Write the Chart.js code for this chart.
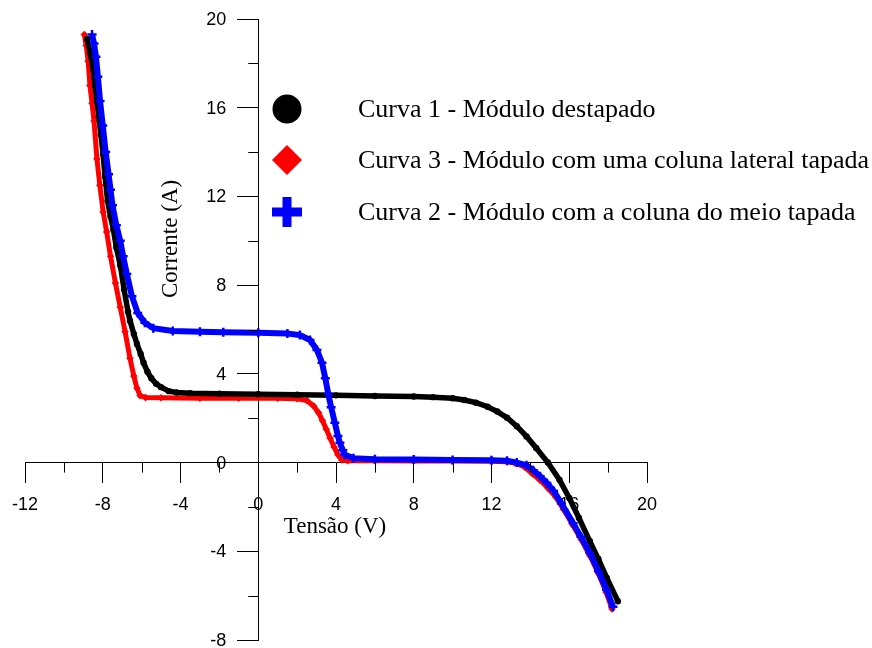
<!DOCTYPE html>
<html><head><meta charset="utf-8">
<script src="https://cdn.jsdelivr.net/npm/chart.js@4.4.1/dist/chart.umd.min.js"></script>
<style>html,body{margin:0;padding:0;background:#fff;}canvas{display:block;}</style>
</head><body>
<canvas id="c" width="872" height="648"></canvas>
<script>
// Tick labels / axis ranges
const xTickLabels = [-12, -8, -4, 0, 4, 8, 12, 16, 20];
const yTickLabels = [-8, -4, 0, 4, 8, 12, 16, 20];

// Series names (legend order)
const seriesNames = [
  'Curva 1 - Módulo destapado',
  'Curva 3 - Módulo com uma coluna lateral tapada',
  'Curva 2 - Módulo com a coluna do meio tapada'
];

// Curva 1 - Tensão (V) / Corrente (A)
const c1V = [-8.8,-8.65,-8.5,-8.4,-8.3,-8.2,-8.1,-7.98,-7.88,-7.75,-7.6,-7.45,-7.3,-7.1,-6.9,-6.7,-6.6,-6.4,-6.24,-6.05,-5.9,-5.7,-5.5,-5.25,-5.0,-4.6,-4.2,-3.5,-2,0,2,4,6,8,9,10,10.6,11.2,11.8,12.3,12.8,13.3,13.8,14.3,14.9,15.5,16.0,16.5,17.06,17.5,17.93,18.5];
const c1I = [19.1,18.5,17.8,17.0,16.3,15.6,14.8,13.9,12.9,11.8,11.1,10.5,9.7,8.9,7.8,6.8,6.4,5.8,5.35,4.9,4.5,4.1,3.8,3.55,3.4,3.22,3.16,3.13,3.1,3.08,3.06,3.03,3.0,2.98,2.95,2.9,2.82,2.7,2.52,2.3,2.02,1.64,1.18,0.66,0.0,-0.78,-1.6,-2.5,-3.55,-4.35,-5.2,-6.25];

// Curva 3 - Tensão (V) / Corrente (A)
const c3V = [-8.95,-8.85,-8.75,-8.66,-8.55,-8.45,-8.3,-8.15,-7.98,-7.8,-7.6,-7.35,-7.1,-6.85,-6.6,-6.4,-6.24,-6.08,-5.8,-5,-3,-1,1,2,2.5,2.85,3.1,3.3,3.5,3.7,3.9,4.1,4.3,4.6,6,8,10,12,12.8,13.2,13.7,14.1,14.5,14.9,15.3,15.7,16.2,16.6,17.06,17.5,17.9,18.2];
const c3I = [19.3,18.8,18.1,17.0,16.2,15.4,13.7,12.5,11.3,10.4,9.3,8.1,7.0,5.9,4.7,3.9,3.35,3.02,2.93,2.92,2.9,2.9,2.9,2.88,2.8,2.55,2.25,1.9,1.5,1.1,0.7,0.35,0.12,0.08,0.08,0.07,0.07,0.06,0.04,-0.02,-0.2,-0.5,-0.8,-1.15,-1.55,-2.1,-2.85,-3.45,-4.2,-5.0,-5.85,-6.6];

// Curva 2 - Tensão (V) / Corrente (A)
const c2V = [-8.55,-8.45,-8.35,-8.25,-8.14,-8.0,-7.85,-7.7,-7.6,-7.5,-7.3,-7.1,-6.95,-6.76,-6.5,-6.2,-5.83,-5.4,-4.4,-3,-1.8,0,1.5,2.14,2.66,3.02,3.28,3.45,3.6,3.75,3.94,4.1,4.2,4.35,4.45,4.9,6,8,10,12,12.8,13.3,13.8,14.15,14.5,14.85,15.2,15.6,16.2,16.6,17.06,17.5,17.92,18.25];
const c2I = [19.3,18.9,18.3,17.4,16.3,15.2,14.0,13.0,12.3,11.6,10.7,10.0,9.3,8.5,7.5,6.74,6.3,6.06,5.93,5.9,5.88,5.85,5.82,5.75,5.53,5.08,4.5,3.8,3.1,2.5,1.79,1.2,0.89,0.55,0.35,0.2,0.15,0.14,0.12,0.1,0.08,0.0,-0.12,-0.35,-0.62,-0.92,-1.28,-1.85,-2.74,-3.35,-4.08,-4.9,-5.74,-6.5];

const pts = (xs, ys) => xs.map((v, i) => ({x: v, y: ys[i]}));

const SERIF = '"Liberation Serif", "Times New Roman", serif';
const SANS = '"Liberation Sans", Arial, sans-serif';

const decor = {
  id: 'decor',
  afterDraw(chart) {
    const ctx = chart.ctx;
    const xs = chart.scales.x, ys = chart.scales.y;
    const x0 = xs.getPixelForValue(0), y0 = ys.getPixelForValue(0);
    ctx.save();
    // minor ticks
    ctx.strokeStyle = '#000'; ctx.lineWidth = 1;
    ctx.beginPath();
    xs.ticks.forEach(t => { if (t.value % 4 !== 0) { const p = Math.round(xs.getPixelForValue(t.value)) + 0.5; ctx.moveTo(p, y0); ctx.lineTo(p, y0 + 10); } });
    ys.ticks.forEach(t => { if (t.value % 4 !== 0) { const p = Math.round(ys.getPixelForValue(t.value)) + 0.5; ctx.moveTo(x0 - 10, p); ctx.lineTo(x0, p); } });
    ctx.stroke();
    // y tick labels (left of the crossing axis)
    ctx.fillStyle = '#000';
    ctx.font = '18px ' + SANS;
    ctx.textAlign = 'right'; ctx.textBaseline = 'middle';
    yTickLabels.forEach(v => ctx.fillText(String(v), x0 - 32, ys.getPixelForValue(v) + 1));
    // axis titles
    ctx.font = '23px ' + SERIF;
    ctx.textAlign = 'center'; ctx.textBaseline = 'alphabetic';
    ctx.fillText('Tensão (V)', 335, 533);
    ctx.save();
    ctx.translate(177, 239); ctx.rotate(-Math.PI / 2);
    ctx.fillText('Corrente (A)', 0, 0);
    ctx.restore();
    // legend
    const lx = 287, ly = [109, 160, 212];
    ctx.fillStyle = '#000';
    ctx.beginPath(); ctx.arc(lx, ly[0], 14.5, 0, Math.PI * 2); ctx.fill();
    ctx.fillStyle = '#ff0000';
    ctx.beginPath(); ctx.moveTo(lx, ly[1] - 15); ctx.lineTo(lx + 15, ly[1]); ctx.lineTo(lx, ly[1] + 15); ctx.lineTo(lx - 15, ly[1]); ctx.closePath(); ctx.fill();
    ctx.fillStyle = '#0000ff';
    ctx.fillRect(lx - 15, ly[2] - 4.5, 30, 9);
    ctx.fillRect(lx - 4.5, ly[2] - 15, 9, 30);
    ctx.fillStyle = '#000';
    ctx.font = '26px ' + SERIF;
    ctx.textAlign = 'left'; ctx.textBaseline = 'middle';
    seriesNames.forEach((s, i) => ctx.fillText(s, 358, ly[i] + 1));
    ctx.restore();
  }
};

const tickFont = {family: SANS, size: 18};
const majorTickColor = c => (c.tick && c.tick.value % 4 === 0) ? '#000' : 'rgba(0,0,0,0)';

new Chart(document.getElementById('c'), {
  type: 'scatter',
  data: {
    datasets: [
      {label: seriesNames[0], data: pts(c1V, c1I), showLine: true, borderColor: '#000', backgroundColor: '#000', borderWidth: 5.5, pointStyle: 'circle', pointRadius: 3.2, pointBorderWidth: 0, order: 1},
      {label: seriesNames[1], data: pts(c3V, c3I), showLine: true, borderColor: '#ff0000', backgroundColor: '#ff0000', borderWidth: 5, pointStyle: 'rectRot', pointRadius: 3.8, pointBorderWidth: 0, order: 2},
      {label: seriesNames[2], data: pts(c2V, c2I), showLine: true, borderColor: '#0000ff', backgroundColor: '#0000ff', borderWidth: 6, pointStyle: 'cross', pointRadius: 4.5, pointBorderWidth: 2.5, order: 0}
    ]
  },
  options: {
    responsive: false,
    animation: false,
    devicePixelRatio: 1,
    layout: {padding: {left: 25, top: 19, right: 225, bottom: 8}},
    plugins: {legend: {display: false}, tooltip: {enabled: false}},
    elements: {line: {tension: 0}},
    scales: {
      x: {
        type: 'linear', min: -12, max: 20,
        position: {y: 0},
        afterFit: s => { s.height = 0; },
        border: {display: true, color: '#000', width: 1},
        grid: {display: true, drawOnChartArea: false, drawTicks: true, tickLength: 20, tickColor: majorTickColor},
        ticks: {stepSize: 2, autoSkip: false, maxRotation: 0, padding: 12, color: '#000', font: tickFont,
                callback: v => (v % 4 === 0 ? String(v) : '')}
      },
      y: {
        type: 'linear', min: -8, max: 20,
        position: {x: 0},
        afterFit: s => { s.width = 0; },
        border: {display: true, color: '#000', width: 1},
        grid: {display: true, drawOnChartArea: false, drawTicks: true, tickLength: 21, tickColor: majorTickColor},
        ticks: {stepSize: 2, display: false}
      }
    }
  },
  plugins: [decor]
});
</script>
</body></html>
